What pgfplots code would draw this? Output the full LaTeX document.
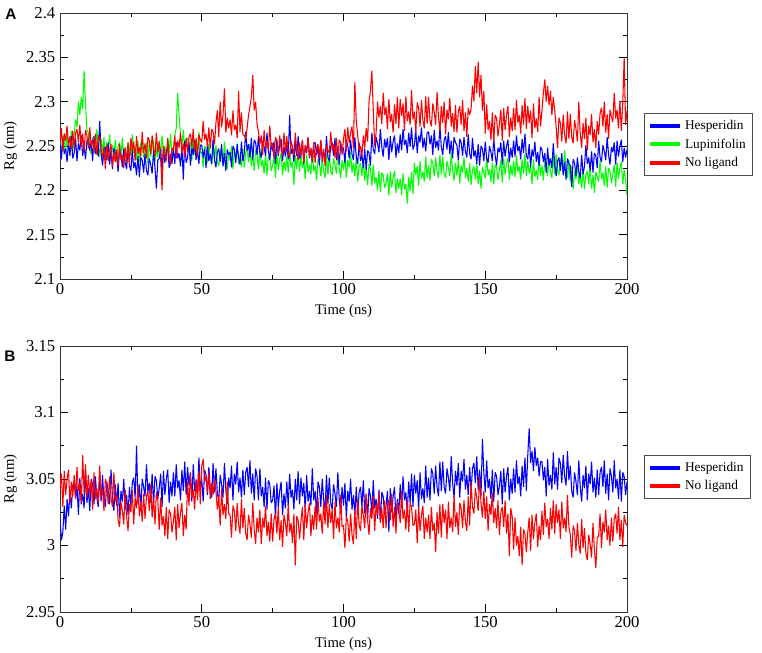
\documentclass[border=0pt]{standalone}
\usepackage{fontspec}
\setmainfont{Liberation Serif}
\newfontfamily\hv{Liberation Sans}
\usepackage{pgfplots}
\pgfplotsset{compat=1.18}
\usepackage{pgfplotstable}

% Panel A, Hesperidin (every 0.5 ns)
\pgfplotstableread[row sep=\\]{y\\
2.253\\ 2.235\\ 2.259\\ 2.241\\ 2.247\\ 2.232\\ 2.255\\ 2.239\\ 2.261\\ 2.236\\
2.242\\ 2.259\\ 2.233\\ 2.253\\ 2.245\\ 2.262\\ 2.239\\ 2.250\\ 2.235\\ 2.256\\
2.259\\ 2.245\\ 2.255\\ 2.233\\ 2.261\\ 2.241\\ 2.249\\ 2.238\\ 2.278\\ 2.242\\
2.228\\ 2.245\\ 2.249\\ 2.234\\ 2.254\\ 2.229\\ 2.244\\ 2.224\\ 2.248\\ 2.242\\
2.238\\ 2.221\\ 2.245\\ 2.241\\ 2.226\\ 2.247\\ 2.231\\ 2.224\\ 2.250\\ 2.228\\
2.222\\ 2.246\\ 2.225\\ 2.232\\ 2.217\\ 2.239\\ 2.215\\ 2.237\\ 2.234\\ 2.220\\
2.241\\ 2.222\\ 2.217\\ 2.236\\ 2.229\\ 2.219\\ 2.245\\ 2.225\\ 2.202\\ 2.234\\
2.236\\ 2.247\\ 2.222\\ 2.249\\ 2.231\\ 2.243\\ 2.250\\ 2.225\\ 2.241\\ 2.230\\
2.248\\ 2.230\\ 2.254\\ 2.236\\ 2.242\\ 2.227\\ 2.250\\ 2.212\\ 2.256\\ 2.231\\
2.237\\ 2.254\\ 2.228\\ 2.248\\ 2.240\\ 2.257\\ 2.234\\ 2.245\\ 2.230\\ 2.251\\
2.251\\ 2.237\\ 2.247\\ 2.225\\ 2.253\\ 2.233\\ 2.241\\ 2.230\\ 2.258\\ 2.234\\
2.226\\ 2.243\\ 2.247\\ 2.232\\ 2.252\\ 2.227\\ 2.242\\ 2.222\\ 2.246\\ 2.240\\
2.243\\ 2.226\\ 2.250\\ 2.246\\ 2.231\\ 2.252\\ 2.236\\ 2.229\\ 2.255\\ 2.233\\
2.242\\ 2.266\\ 2.245\\ 2.252\\ 2.237\\ 2.259\\ 2.235\\ 2.257\\ 2.254\\ 2.240\\
2.261\\ 2.242\\ 2.237\\ 2.256\\ 2.249\\ 2.239\\ 2.265\\ 2.245\\ 2.234\\ 2.254\\
2.244\\ 2.255\\ 2.230\\ 2.257\\ 2.239\\ 2.251\\ 2.258\\ 2.233\\ 2.249\\ 2.238\\
2.253\\ 2.235\\ 2.285\\ 2.241\\ 2.247\\ 2.232\\ 2.255\\ 2.239\\ 2.261\\ 2.236\\
2.239\\ 2.256\\ 2.230\\ 2.250\\ 2.242\\ 2.259\\ 2.236\\ 2.247\\ 2.232\\ 2.253\\
2.254\\ 2.240\\ 2.250\\ 2.228\\ 2.256\\ 2.236\\ 2.244\\ 2.233\\ 2.261\\ 2.237\\
2.233\\ 2.250\\ 2.254\\ 2.239\\ 2.259\\ 2.234\\ 2.249\\ 2.229\\ 2.253\\ 2.247\\
2.248\\ 2.231\\ 2.255\\ 2.251\\ 2.236\\ 2.257\\ 2.241\\ 2.234\\ 2.260\\ 2.238\\
2.230\\ 2.254\\ 2.233\\ 2.240\\ 2.225\\ 2.247\\ 2.223\\ 2.245\\ 2.242\\ 2.228\\
2.265\\ 2.246\\ 2.241\\ 2.260\\ 2.253\\ 2.243\\ 2.269\\ 2.249\\ 2.238\\ 2.258\\
2.248\\ 2.259\\ 2.234\\ 2.261\\ 2.243\\ 2.255\\ 2.262\\ 2.237\\ 2.253\\ 2.242\\
2.263\\ 2.245\\ 2.269\\ 2.251\\ 2.257\\ 2.242\\ 2.265\\ 2.249\\ 2.271\\ 2.246\\
2.251\\ 2.268\\ 2.242\\ 2.262\\ 2.254\\ 2.271\\ 2.248\\ 2.259\\ 2.244\\ 2.265\\
2.266\\ 2.252\\ 2.262\\ 2.240\\ 2.268\\ 2.248\\ 2.256\\ 2.245\\ 2.273\\ 2.249\\
2.240\\ 2.257\\ 2.261\\ 2.246\\ 2.266\\ 2.241\\ 2.256\\ 2.236\\ 2.260\\ 2.254\\
2.251\\ 2.234\\ 2.258\\ 2.254\\ 2.239\\ 2.260\\ 2.244\\ 2.237\\ 2.263\\ 2.241\\
2.235\\ 2.259\\ 2.238\\ 2.245\\ 2.230\\ 2.252\\ 2.228\\ 2.250\\ 2.247\\ 2.233\\
2.255\\ 2.236\\ 2.231\\ 2.250\\ 2.243\\ 2.233\\ 2.259\\ 2.239\\ 2.228\\ 2.248\\
2.243\\ 2.254\\ 2.229\\ 2.256\\ 2.238\\ 2.250\\ 2.257\\ 2.232\\ 2.248\\ 2.237\\
2.256\\ 2.238\\ 2.262\\ 2.244\\ 2.250\\ 2.235\\ 2.258\\ 2.242\\ 2.264\\ 2.239\\
2.235\\ 2.252\\ 2.226\\ 2.246\\ 2.238\\ 2.255\\ 2.232\\ 2.243\\ 2.228\\ 2.249\\
2.246\\ 2.232\\ 2.242\\ 2.220\\ 2.248\\ 2.228\\ 2.236\\ 2.225\\ 2.253\\ 2.229\\
2.216\\ 2.233\\ 2.237\\ 2.222\\ 2.242\\ 2.217\\ 2.232\\ 2.212\\ 2.236\\ 2.230\\
2.228\\ 2.204\\ 2.235\\ 2.231\\ 2.216\\ 2.237\\ 2.221\\ 2.214\\ 2.240\\ 2.218\\
2.227\\ 2.251\\ 2.230\\ 2.237\\ 2.222\\ 2.244\\ 2.220\\ 2.242\\ 2.239\\ 2.225\\
2.256\\ 2.237\\ 2.232\\ 2.251\\ 2.244\\ 2.234\\ 2.260\\ 2.240\\ 2.229\\ 2.249\\
2.243\\ 2.254\\ 2.229\\ 2.256\\ 2.238\\ 2.250\\ 2.257\\ 2.232\\ 2.248\\ 2.237\\
2.246\\
}\HA

% Panel A, Lupinifolin
\pgfplotstableread[row sep=\\]{y\\
2.255\\ 2.238\\ 2.262\\ 2.258\\ 2.243\\ 2.264\\ 2.248\\ 2.241\\ 2.267\\ 2.245\\
2.262\\ 2.280\\ 2.271\\ 2.300\\ 2.285\\ 2.305\\ 2.292\\ 2.335\\ 2.298\\ 2.268\\
2.265\\ 2.246\\ 2.241\\ 2.260\\ 2.253\\ 2.243\\ 2.269\\ 2.249\\ 2.238\\ 2.258\\
2.243\\ 2.260\\ 2.234\\ 2.254\\ 2.246\\ 2.263\\ 2.240\\ 2.251\\ 2.236\\ 2.257\\
2.233\\ 2.250\\ 2.254\\ 2.239\\ 2.259\\ 2.234\\ 2.249\\ 2.229\\ 2.253\\ 2.247\\
2.239\\ 2.263\\ 2.242\\ 2.249\\ 2.234\\ 2.256\\ 2.232\\ 2.254\\ 2.251\\ 2.237\\
2.243\\ 2.254\\ 2.229\\ 2.256\\ 2.238\\ 2.250\\ 2.257\\ 2.232\\ 2.248\\ 2.237\\
2.256\\ 2.238\\ 2.262\\ 2.244\\ 2.250\\ 2.235\\ 2.258\\ 2.242\\ 2.264\\ 2.239\\
2.248\\ 2.262\\ 2.270\\ 2.310\\ 2.285\\ 2.262\\ 2.250\\ 2.268\\ 2.245\\ 2.258\\
2.259\\ 2.245\\ 2.255\\ 2.233\\ 2.261\\ 2.241\\ 2.249\\ 2.238\\ 2.266\\ 2.242\\
2.243\\ 2.226\\ 2.250\\ 2.246\\ 2.231\\ 2.252\\ 2.236\\ 2.229\\ 2.255\\ 2.233\\
2.251\\ 2.232\\ 2.227\\ 2.246\\ 2.239\\ 2.229\\ 2.255\\ 2.235\\ 2.224\\ 2.244\\
2.233\\ 2.250\\ 2.224\\ 2.244\\ 2.236\\ 2.253\\ 2.230\\ 2.241\\ 2.226\\ 2.247\\
2.226\\ 2.243\\ 2.247\\ 2.232\\ 2.252\\ 2.227\\ 2.242\\ 2.222\\ 2.246\\ 2.240\\
2.224\\ 2.248\\ 2.227\\ 2.234\\ 2.219\\ 2.241\\ 2.217\\ 2.239\\ 2.236\\ 2.222\\
2.228\\ 2.239\\ 2.214\\ 2.241\\ 2.223\\ 2.235\\ 2.242\\ 2.217\\ 2.233\\ 2.222\\
2.238\\ 2.220\\ 2.244\\ 2.226\\ 2.232\\ 2.206\\ 2.240\\ 2.224\\ 2.246\\ 2.221\\
2.239\\ 2.225\\ 2.235\\ 2.213\\ 2.241\\ 2.221\\ 2.229\\ 2.218\\ 2.246\\ 2.222\\
2.228\\ 2.211\\ 2.235\\ 2.231\\ 2.216\\ 2.237\\ 2.221\\ 2.214\\ 2.240\\ 2.218\\
2.241\\ 2.222\\ 2.217\\ 2.236\\ 2.229\\ 2.219\\ 2.245\\ 2.225\\ 2.214\\ 2.234\\
2.223\\ 2.240\\ 2.214\\ 2.234\\ 2.226\\ 2.243\\ 2.220\\ 2.231\\ 2.216\\ 2.237\\
2.210\\ 2.227\\ 2.231\\ 2.216\\ 2.236\\ 2.211\\ 2.226\\ 2.206\\ 2.230\\ 2.224\\
2.205\\ 2.229\\ 2.208\\ 2.215\\ 2.200\\ 2.222\\ 2.198\\ 2.220\\ 2.217\\ 2.203\\
2.208\\ 2.219\\ 2.194\\ 2.221\\ 2.203\\ 2.215\\ 2.222\\ 2.197\\ 2.213\\ 2.202\\
2.213\\ 2.195\\ 2.219\\ 2.201\\ 2.207\\ 2.185\\ 2.215\\ 2.199\\ 2.221\\ 2.196\\
2.231\\ 2.217\\ 2.227\\ 2.205\\ 2.233\\ 2.213\\ 2.221\\ 2.210\\ 2.238\\ 2.214\\
2.228\\ 2.211\\ 2.235\\ 2.231\\ 2.216\\ 2.237\\ 2.221\\ 2.214\\ 2.240\\ 2.218\\
2.238\\ 2.219\\ 2.214\\ 2.233\\ 2.226\\ 2.216\\ 2.242\\ 2.222\\ 2.211\\ 2.231\\
2.217\\ 2.234\\ 2.208\\ 2.228\\ 2.220\\ 2.237\\ 2.214\\ 2.225\\ 2.210\\ 2.231\\
2.206\\ 2.223\\ 2.227\\ 2.212\\ 2.232\\ 2.207\\ 2.222\\ 2.202\\ 2.226\\ 2.220\\
2.214\\ 2.238\\ 2.217\\ 2.224\\ 2.209\\ 2.231\\ 2.207\\ 2.229\\ 2.226\\ 2.212\\
2.223\\ 2.234\\ 2.209\\ 2.236\\ 2.218\\ 2.230\\ 2.237\\ 2.212\\ 2.228\\ 2.217\\
2.233\\ 2.215\\ 2.239\\ 2.221\\ 2.227\\ 2.212\\ 2.235\\ 2.219\\ 2.241\\ 2.216\\
2.233\\ 2.219\\ 2.229\\ 2.207\\ 2.235\\ 2.215\\ 2.223\\ 2.212\\ 2.240\\ 2.216\\
2.228\\ 2.211\\ 2.235\\ 2.231\\ 2.216\\ 2.237\\ 2.221\\ 2.214\\ 2.240\\ 2.218\\
2.241\\ 2.222\\ 2.217\\ 2.236\\ 2.229\\ 2.219\\ 2.245\\ 2.225\\ 2.214\\ 2.234\\
2.210\\ 2.227\\ 2.201\\ 2.221\\ 2.213\\ 2.230\\ 2.207\\ 2.218\\ 2.203\\ 2.224\\
2.201\\ 2.218\\ 2.222\\ 2.207\\ 2.227\\ 2.202\\ 2.217\\ 2.197\\ 2.221\\ 2.215\\
2.210\\ 2.234\\ 2.213\\ 2.220\\ 2.205\\ 2.227\\ 2.203\\ 2.225\\ 2.222\\ 2.208\\
2.218\\ 2.229\\ 2.204\\ 2.231\\ 2.213\\ 2.225\\ 2.232\\ 2.207\\ 2.223\\ 2.212\\
2.195\\
}\LA

% Panel A, No ligand
\pgfplotstableread[row sep=\\]{y\\
2.253\\ 2.270\\ 2.244\\ 2.264\\ 2.256\\ 2.273\\ 2.250\\ 2.261\\ 2.246\\ 2.267\\
2.248\\ 2.265\\ 2.269\\ 2.254\\ 2.274\\ 2.249\\ 2.264\\ 2.244\\ 2.268\\ 2.262\\
2.247\\ 2.271\\ 2.250\\ 2.257\\ 2.242\\ 2.264\\ 2.240\\ 2.262\\ 2.259\\ 2.245\\
2.238\\ 2.249\\ 2.224\\ 2.251\\ 2.233\\ 2.245\\ 2.252\\ 2.227\\ 2.243\\ 2.232\\
2.246\\ 2.228\\ 2.252\\ 2.234\\ 2.240\\ 2.225\\ 2.248\\ 2.232\\ 2.254\\ 2.229\\
2.259\\ 2.245\\ 2.255\\ 2.233\\ 2.261\\ 2.241\\ 2.249\\ 2.238\\ 2.266\\ 2.242\\
2.253\\ 2.236\\ 2.260\\ 2.256\\ 2.241\\ 2.262\\ 2.246\\ 2.239\\ 2.265\\ 2.243\\
2.255\\ 2.236\\ 2.200\\ 2.250\\ 2.243\\ 2.233\\ 2.259\\ 2.239\\ 2.228\\ 2.248\\
2.245\\ 2.262\\ 2.236\\ 2.256\\ 2.248\\ 2.265\\ 2.242\\ 2.253\\ 2.238\\ 2.259\\
2.243\\ 2.260\\ 2.264\\ 2.249\\ 2.269\\ 2.244\\ 2.259\\ 2.239\\ 2.263\\ 2.257\\
2.254\\ 2.278\\ 2.257\\ 2.264\\ 2.249\\ 2.271\\ 2.247\\ 2.269\\ 2.266\\ 2.252\\
2.276\\ 2.290\\ 2.260\\ 2.300\\ 2.271\\ 2.285\\ 2.315\\ 2.265\\ 2.282\\ 2.270\\
2.280\\ 2.262\\ 2.290\\ 2.268\\ 2.274\\ 2.259\\ 2.312\\ 2.266\\ 2.288\\ 2.263\\
2.262\\ 2.258\\ 2.270\\ 2.285\\ 2.295\\ 2.305\\ 2.330\\ 2.290\\ 2.300\\ 2.275\\
2.266\\ 2.252\\ 2.262\\ 2.240\\ 2.268\\ 2.248\\ 2.256\\ 2.245\\ 2.273\\ 2.249\\
2.253\\ 2.236\\ 2.260\\ 2.256\\ 2.241\\ 2.262\\ 2.246\\ 2.239\\ 2.265\\ 2.243\\
2.261\\ 2.242\\ 2.237\\ 2.256\\ 2.249\\ 2.239\\ 2.265\\ 2.245\\ 2.234\\ 2.254\\
2.240\\ 2.257\\ 2.231\\ 2.251\\ 2.243\\ 2.260\\ 2.237\\ 2.248\\ 2.233\\ 2.254\\
2.231\\ 2.248\\ 2.252\\ 2.237\\ 2.257\\ 2.232\\ 2.247\\ 2.227\\ 2.251\\ 2.245\\
2.242\\ 2.266\\ 2.245\\ 2.252\\ 2.237\\ 2.259\\ 2.235\\ 2.257\\ 2.254\\ 2.240\\
2.258\\ 2.269\\ 2.244\\ 2.271\\ 2.253\\ 2.265\\ 2.272\\ 2.247\\ 2.322\\ 2.278\\
2.262\\ 2.245\\ 2.250\\ 2.238\\ 2.262\\ 2.248\\ 2.270\\ 2.255\\ 2.300\\ 2.312\\
2.335\\ 2.290\\ 2.250\\ 2.265\\ 2.300\\ 2.282\\ 2.295\\ 2.275\\ 2.310\\ 2.285\\
2.294\\ 2.269\\ 2.303\\ 2.277\\ 2.286\\ 2.265\\ 2.297\\ 2.275\\ 2.305\\ 2.270\\
2.303\\ 2.284\\ 2.298\\ 2.267\\ 2.306\\ 2.278\\ 2.289\\ 2.274\\ 2.313\\ 2.280\\
2.289\\ 2.265\\ 2.299\\ 2.293\\ 2.272\\ 2.302\\ 2.279\\ 2.270\\ 2.306\\ 2.275\\
2.305\\ 2.279\\ 2.272\\ 2.298\\ 2.288\\ 2.274\\ 2.311\\ 2.283\\ 2.267\\ 2.295\\
2.276\\ 2.300\\ 2.263\\ 2.291\\ 2.280\\ 2.304\\ 2.272\\ 2.287\\ 2.266\\ 2.296\\
2.265\\ 2.289\\ 2.295\\ 2.274\\ 2.302\\ 2.267\\ 2.288\\ 2.260\\ 2.293\\ 2.285\\
2.292\\ 2.318\\ 2.300\\ 2.340\\ 2.310\\ 2.345\\ 2.305\\ 2.330\\ 2.290\\ 2.312\\
2.264\\ 2.297\\ 2.268\\ 2.278\\ 2.257\\ 2.288\\ 2.254\\ 2.285\\ 2.281\\ 2.261\\
2.275\\ 2.291\\ 2.256\\ 2.293\\ 2.268\\ 2.285\\ 2.295\\ 2.260\\ 2.282\\ 2.267\\
2.293\\ 2.268\\ 2.302\\ 2.276\\ 2.285\\ 2.264\\ 2.296\\ 2.274\\ 2.304\\ 2.269\\
2.295\\ 2.276\\ 2.290\\ 2.259\\ 2.298\\ 2.270\\ 2.281\\ 2.266\\ 2.305\\ 2.272\\
2.290\\ 2.310\\ 2.325\\ 2.300\\ 2.318\\ 2.296\\ 2.312\\ 2.285\\ 2.305\\ 2.290\\
2.272\\ 2.248\\ 2.282\\ 2.276\\ 2.255\\ 2.285\\ 2.262\\ 2.253\\ 2.289\\ 2.258\\
2.286\\ 2.260\\ 2.253\\ 2.279\\ 2.269\\ 2.255\\ 2.300\\ 2.264\\ 2.248\\ 2.276\\
2.258\\ 2.282\\ 2.245\\ 2.273\\ 2.262\\ 2.286\\ 2.254\\ 2.269\\ 2.248\\ 2.278\\
2.263\\ 2.287\\ 2.293\\ 2.272\\ 2.300\\ 2.265\\ 2.286\\ 2.258\\ 2.291\\ 2.283\\
2.277\\ 2.310\\ 2.281\\ 2.291\\ 2.270\\ 2.301\\ 2.267\\ 2.298\\ 2.350\\ 2.274\\
2.290\\
}\NA

% Panel B, Hesperidin
\pgfplotstableread[row sep=\\]{y\\
3.020\\ 3.004\\ 3.010\\ 3.030\\ 3.012\\ 3.035\\ 3.022\\ 3.040\\ 3.028\\ 3.045\\
3.049\\ 3.035\\ 3.045\\ 3.023\\ 3.051\\ 3.031\\ 3.039\\ 3.028\\ 3.056\\ 3.032\\
3.043\\ 3.026\\ 3.050\\ 3.046\\ 3.031\\ 3.052\\ 3.036\\ 3.029\\ 3.055\\ 3.033\\
3.053\\ 3.034\\ 3.029\\ 3.048\\ 3.041\\ 3.031\\ 3.057\\ 3.037\\ 3.026\\ 3.046\\
3.030\\ 3.047\\ 3.021\\ 3.041\\ 3.033\\ 3.050\\ 3.027\\ 3.038\\ 3.023\\ 3.044\\
3.030\\ 3.047\\ 3.051\\ 3.036\\ 3.075\\ 3.031\\ 3.046\\ 3.026\\ 3.050\\ 3.044\\
3.037\\ 3.061\\ 3.040\\ 3.047\\ 3.032\\ 3.054\\ 3.030\\ 3.052\\ 3.049\\ 3.035\\
3.043\\ 3.054\\ 3.029\\ 3.056\\ 3.038\\ 3.050\\ 3.057\\ 3.032\\ 3.048\\ 3.037\\
3.055\\ 3.037\\ 3.061\\ 3.043\\ 3.049\\ 3.034\\ 3.057\\ 3.041\\ 3.063\\ 3.038\\
3.059\\ 3.045\\ 3.055\\ 3.033\\ 3.061\\ 3.041\\ 3.049\\ 3.038\\ 3.066\\ 3.042\\
3.050\\ 3.033\\ 3.057\\ 3.053\\ 3.038\\ 3.059\\ 3.043\\ 3.036\\ 3.062\\ 3.040\\
3.058\\ 3.039\\ 3.034\\ 3.053\\ 3.046\\ 3.036\\ 3.062\\ 3.042\\ 3.031\\ 3.051\\
3.043\\ 3.060\\ 3.034\\ 3.054\\ 3.046\\ 3.063\\ 3.040\\ 3.051\\ 3.036\\ 3.057\\
3.038\\ 3.055\\ 3.059\\ 3.044\\ 3.064\\ 3.039\\ 3.054\\ 3.034\\ 3.058\\ 3.052\\
3.034\\ 3.058\\ 3.037\\ 3.044\\ 3.029\\ 3.051\\ 3.027\\ 3.049\\ 3.046\\ 3.032\\
3.034\\ 3.045\\ 3.020\\ 3.047\\ 3.029\\ 3.041\\ 3.048\\ 3.023\\ 3.039\\ 3.028\\
3.048\\ 3.030\\ 3.054\\ 3.036\\ 3.042\\ 3.027\\ 3.050\\ 3.034\\ 3.056\\ 3.031\\
3.051\\ 3.037\\ 3.047\\ 3.025\\ 3.053\\ 3.033\\ 3.041\\ 3.030\\ 3.058\\ 3.034\\
3.041\\ 3.024\\ 3.048\\ 3.044\\ 3.029\\ 3.050\\ 3.034\\ 3.027\\ 3.053\\ 3.031\\
3.051\\ 3.032\\ 3.027\\ 3.046\\ 3.039\\ 3.029\\ 3.055\\ 3.035\\ 3.024\\ 3.044\\
3.030\\ 3.047\\ 3.021\\ 3.041\\ 3.033\\ 3.050\\ 3.027\\ 3.038\\ 3.023\\ 3.044\\
3.023\\ 3.040\\ 3.044\\ 3.029\\ 3.049\\ 3.024\\ 3.039\\ 3.019\\ 3.043\\ 3.037\\
3.025\\ 3.049\\ 3.028\\ 3.035\\ 3.020\\ 3.042\\ 3.018\\ 3.040\\ 3.037\\ 3.023\\
3.030\\ 3.041\\ 3.010\\ 3.043\\ 3.025\\ 3.037\\ 3.044\\ 3.019\\ 3.035\\ 3.024\\
3.046\\ 3.028\\ 3.052\\ 3.034\\ 3.040\\ 3.025\\ 3.048\\ 3.032\\ 3.054\\ 3.029\\
3.053\\ 3.039\\ 3.049\\ 3.027\\ 3.055\\ 3.035\\ 3.043\\ 3.032\\ 3.060\\ 3.036\\
3.051\\ 3.034\\ 3.058\\ 3.054\\ 3.039\\ 3.060\\ 3.044\\ 3.037\\ 3.063\\ 3.041\\
3.063\\ 3.044\\ 3.039\\ 3.058\\ 3.051\\ 3.041\\ 3.067\\ 3.047\\ 3.036\\ 3.056\\
3.045\\ 3.062\\ 3.036\\ 3.056\\ 3.048\\ 3.065\\ 3.042\\ 3.053\\ 3.038\\ 3.059\\
3.041\\ 3.058\\ 3.062\\ 3.047\\ 3.067\\ 3.042\\ 3.057\\ 3.037\\ 3.080\\ 3.055\\
3.040\\ 3.064\\ 3.043\\ 3.050\\ 3.035\\ 3.057\\ 3.033\\ 3.055\\ 3.052\\ 3.038\\
3.045\\ 3.056\\ 3.031\\ 3.058\\ 3.040\\ 3.052\\ 3.059\\ 3.034\\ 3.050\\ 3.039\\
3.058\\ 3.040\\ 3.064\\ 3.046\\ 3.052\\ 3.037\\ 3.060\\ 3.044\\ 3.066\\ 3.041\\
3.068\\ 3.088\\ 3.062\\ 3.071\\ 3.056\\ 3.074\\ 3.060\\ 3.066\\ 3.052\\ 3.063\\
3.063\\ 3.049\\ 3.059\\ 3.037\\ 3.065\\ 3.045\\ 3.053\\ 3.042\\ 3.070\\ 3.046\\
3.059\\ 3.042\\ 3.066\\ 3.062\\ 3.047\\ 3.068\\ 3.052\\ 3.045\\ 3.071\\ 3.049\\
3.060\\ 3.041\\ 3.036\\ 3.055\\ 3.048\\ 3.038\\ 3.064\\ 3.044\\ 3.033\\ 3.053\\
3.043\\ 3.060\\ 3.034\\ 3.054\\ 3.046\\ 3.063\\ 3.040\\ 3.051\\ 3.036\\ 3.057\\
3.038\\ 3.055\\ 3.059\\ 3.044\\ 3.064\\ 3.039\\ 3.054\\ 3.034\\ 3.058\\ 3.052\\
3.040\\ 3.064\\ 3.043\\ 3.050\\ 3.035\\ 3.057\\ 3.033\\ 3.055\\ 3.052\\ 3.038\\
3.048\\
}\HB

% Panel B, No ligand
\pgfplotstableread[row sep=\\]{y\\
3.043\\ 3.054\\ 3.029\\ 3.056\\ 3.038\\ 3.050\\ 3.057\\ 3.032\\ 3.048\\ 3.037\\
3.053\\ 3.035\\ 3.059\\ 3.041\\ 3.047\\ 3.032\\ 3.068\\ 3.039\\ 3.061\\ 3.036\\
3.053\\ 3.039\\ 3.049\\ 3.027\\ 3.055\\ 3.035\\ 3.043\\ 3.032\\ 3.060\\ 3.036\\
3.043\\ 3.026\\ 3.050\\ 3.046\\ 3.031\\ 3.052\\ 3.036\\ 3.029\\ 3.055\\ 3.033\\
3.038\\ 3.019\\ 3.014\\ 3.033\\ 3.026\\ 3.016\\ 3.042\\ 3.022\\ 3.011\\ 3.031\\
3.025\\ 3.042\\ 3.016\\ 3.036\\ 3.028\\ 3.045\\ 3.022\\ 3.033\\ 3.018\\ 3.039\\
3.020\\ 3.037\\ 3.041\\ 3.026\\ 3.046\\ 3.021\\ 3.036\\ 3.016\\ 3.040\\ 3.034\\
3.012\\ 3.036\\ 3.015\\ 3.022\\ 3.007\\ 3.029\\ 3.005\\ 3.027\\ 3.024\\ 3.010\\
3.018\\ 3.029\\ 3.004\\ 3.031\\ 3.013\\ 3.025\\ 3.032\\ 3.007\\ 3.023\\ 3.012\\
3.048\\ 3.030\\ 3.054\\ 3.036\\ 3.042\\ 3.027\\ 3.050\\ 3.034\\ 3.056\\ 3.031\\
3.060\\ 3.065\\ 3.048\\ 3.052\\ 3.040\\ 3.055\\ 3.035\\ 3.047\\ 3.038\\ 3.050\\
3.041\\ 3.027\\ 3.037\\ 3.015\\ 3.043\\ 3.023\\ 3.031\\ 3.020\\ 3.048\\ 3.024\\
3.023\\ 3.006\\ 3.030\\ 3.026\\ 3.011\\ 3.032\\ 3.016\\ 3.009\\ 3.035\\ 3.013\\
3.028\\ 3.009\\ 3.004\\ 3.023\\ 3.016\\ 3.006\\ 3.032\\ 3.012\\ 3.001\\ 3.021\\
3.010\\ 3.027\\ 3.001\\ 3.021\\ 3.013\\ 3.030\\ 3.007\\ 3.018\\ 3.003\\ 3.024\\
3.003\\ 3.020\\ 3.024\\ 3.009\\ 3.029\\ 3.004\\ 3.019\\ 2.999\\ 3.023\\ 3.017\\
3.007\\ 3.031\\ 3.010\\ 3.017\\ 3.002\\ 3.024\\ 2.985\\ 3.022\\ 3.019\\ 3.005\\
3.018\\ 3.029\\ 3.004\\ 3.031\\ 3.013\\ 3.025\\ 3.032\\ 3.007\\ 3.023\\ 3.012\\
3.030\\ 3.012\\ 3.036\\ 3.018\\ 3.024\\ 3.009\\ 3.032\\ 3.016\\ 3.038\\ 3.013\\
3.031\\ 3.017\\ 3.027\\ 3.005\\ 3.033\\ 3.013\\ 3.021\\ 3.010\\ 3.038\\ 3.014\\
3.015\\ 2.998\\ 3.022\\ 3.018\\ 3.003\\ 3.024\\ 3.008\\ 3.001\\ 3.027\\ 3.005\\
3.035\\ 3.016\\ 3.011\\ 3.030\\ 3.023\\ 3.013\\ 3.039\\ 3.019\\ 3.008\\ 3.028\\
3.020\\ 3.037\\ 3.011\\ 3.031\\ 3.023\\ 3.040\\ 3.017\\ 3.028\\ 3.013\\ 3.034\\
3.013\\ 3.030\\ 3.034\\ 3.019\\ 3.039\\ 3.014\\ 3.029\\ 3.009\\ 3.033\\ 3.027\\
3.017\\ 3.041\\ 3.020\\ 3.027\\ 3.012\\ 3.034\\ 3.010\\ 3.032\\ 3.029\\ 3.015\\
3.016\\ 3.027\\ 3.002\\ 3.029\\ 3.011\\ 3.023\\ 3.030\\ 3.005\\ 3.021\\ 3.010\\
3.023\\ 3.005\\ 3.029\\ 3.011\\ 3.017\\ 2.995\\ 3.025\\ 3.009\\ 3.031\\ 3.006\\
3.031\\ 3.017\\ 3.027\\ 3.005\\ 3.033\\ 3.013\\ 3.021\\ 3.010\\ 3.038\\ 3.014\\
3.025\\ 3.008\\ 3.032\\ 3.028\\ 3.013\\ 3.034\\ 3.018\\ 3.011\\ 3.037\\ 3.015\\
3.048\\ 3.029\\ 3.024\\ 3.043\\ 3.036\\ 3.026\\ 3.052\\ 3.032\\ 3.021\\ 3.041\\
3.020\\ 3.037\\ 3.011\\ 3.031\\ 3.023\\ 3.040\\ 3.017\\ 3.028\\ 3.013\\ 3.034\\
3.008\\ 3.025\\ 3.029\\ 3.014\\ 3.034\\ 3.009\\ 3.024\\ 2.992\\ 3.028\\ 3.022\\
2.997\\ 3.021\\ 3.000\\ 3.007\\ 2.992\\ 3.014\\ 2.985\\ 3.012\\ 3.009\\ 2.995\\
3.010\\ 3.021\\ 2.996\\ 3.023\\ 3.005\\ 3.017\\ 3.024\\ 2.999\\ 3.015\\ 3.004\\
3.026\\ 3.008\\ 3.032\\ 3.014\\ 3.020\\ 3.005\\ 3.028\\ 3.012\\ 3.034\\ 3.009\\
3.031\\ 3.017\\ 3.027\\ 3.005\\ 3.033\\ 3.013\\ 3.021\\ 3.010\\ 3.038\\ 3.014\\
3.008\\ 2.991\\ 3.015\\ 3.011\\ 2.996\\ 3.017\\ 3.001\\ 2.994\\ 3.020\\ 2.998\\
3.013\\ 2.994\\ 2.989\\ 3.008\\ 3.001\\ 2.991\\ 3.017\\ 2.997\\ 2.983\\ 3.006\\
3.007\\ 3.024\\ 2.998\\ 3.018\\ 3.010\\ 3.027\\ 3.004\\ 3.015\\ 3.000\\ 3.021\\
3.003\\ 3.020\\ 3.024\\ 3.009\\ 3.029\\ 3.004\\ 3.019\\ 2.999\\ 3.023\\ 3.017\\
3.015\\
}\NB

\pgfplotsset{
  grace/.style={
    scale only axis, width=425.25pt, height=199.5pt,
    xmin=0, xmax=200, xtick={0,50,100,150,200},
    minor x tick num=1, minor y tick num=1,
    tick align=inside, major tick length=6pt, minor tick length=3pt,
    every tick/.style={black, line width=0.5pt},
    axis line style={line width=0.6pt, black!80},
    /pgf/number format/assume math mode=true,
    ticklabel style={font=\fontsize{12.5}{14}\selectfont},
    label style={font=\fontsize{11}{13}\selectfont},
    xlabel={Time (ns)}, ylabel={Rg (nm)},
    legend style={draw=black!70, line width=0.6pt,
      font=\fontsize{10}{11.5}\selectfont, anchor=north west,
      inner xsep=3pt, inner ysep=3pt, row sep=1.5pt,
      cells={anchor=west}},
    legend image code/.code={\draw[line width=3pt] (0pt,0pt) -- (22.5pt,0pt);},
    every axis plot/.append style={line width=0.8pt, line join=bevel},
  }
}

\begin{document}
\begin{tikzpicture}
\useasboundingbox (-45pt,9.75pt) rectangle (526.5pt,-479.25pt);
\begin{axis}[grace, at={(0pt,0pt)}, anchor=north west,
  ymin=2.1, ymax=2.4, ytick={2.1,2.15,2.2,2.25,2.3,2.35,2.4},
  legend style={at={(1.030,0.624)}}]
  \addplot[green, forget plot] table[x expr=\coordindex*0.5, y=y] {\LA};
  \addplot[blue, forget plot] table[x expr=\coordindex*0.5, y=y] {\HA};
  \addplot[red, forget plot] table[x expr=\coordindex*0.5, y=y] {\NA};
  \addlegendimage{blue}\addlegendentry{Hesperidin}
  \addlegendimage{green}\addlegendentry{Lupinifolin}
  \addlegendimage{red}\addlegendentry{No ligand}
\end{axis}
\begin{axis}[grace, at={(0pt,-249.75pt)}, anchor=north west,
  ymin=2.95, ymax=3.15, ytick={2.95,3,3.05,3.1,3.15},
  legend style={at={(1.030,0.590)}}]
  \addplot[blue] table[x expr=\coordindex*0.5, y=y] {\HB};
  \addlegendentry{Hesperidin}
  \addplot[red] table[x expr=\coordindex*0.5, y=y] {\NB};
  \addlegendentry{No ligand}
\end{axis}
\node[font=\hv\bfseries\fontsize{11.5}{12}\selectfont] at (-36.75pt,-0.75pt) {A};
\node[font=\hv\bfseries\fontsize{11.5}{12}\selectfont] at (-37.5pt,-257.25pt) {B};
\end{tikzpicture}
\end{document}
